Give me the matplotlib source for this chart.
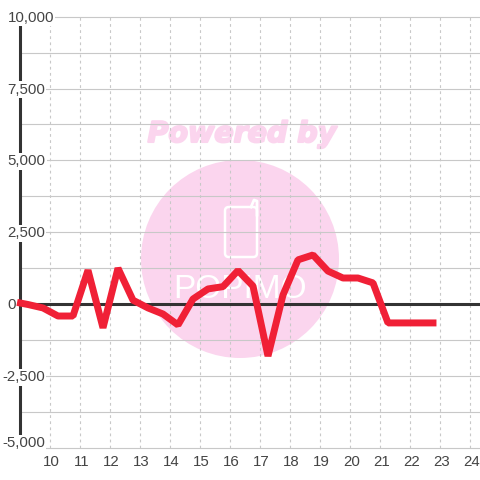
import matplotlib
matplotlib.use('Agg')
import matplotlib.pyplot as plt
import matplotlib.patheffects as pe
from matplotlib.patches import Circle, FancyBboxPatch

plt.rcParams['font.family'] = ['Liberation Sans', 'DejaVu Sans']

hours = [9, 9.25, 9.75, 10.25, 10.75, 11.25, 11.75, 12.25, 12.75, 13.25, 13.75, 14.25, 14.75,
         15.25, 15.75, 16.25, 16.75, 17.25, 17.75, 18.25, 18.75, 19.25, 19.75, 20.25, 20.75,
         21.25, 21.75, 22.25, 22.75]
values = [50, 0, -120, -400, -400, 1190, -810, 1260, 150, -120, -330, -710, 190,
          540, 620, 1180, 640, -1790, 330, 1550, 1720, 1160, 920, 920, 750,
          -640, -640, -640, -640]

x_ticks = list(range(10, 25))
y_grid = [-5000, -3750, -2500, -1250, 0, 1250, 2500, 3750, 5000, 6250, 7500, 8750, 10000]
y_labels = {10000: '10,000', 7500: '7,500', 5000: '5,000', 2500: '2,500', 0: '0',
            -2500: '-2,500', -5000: '-5,000'}

TEXT = '#444444'
GRID = '#c8c8c8'
PINK = '#fbd5ee'

fig = plt.figure(figsize=(4.8, 4.8), dpi=100)
ax = fig.add_axes([0, 0, 1, 1])
ax.set_xlim(8.317, 24.317)
ax.set_ylim(-6094, 10573)
ax.axis('off')


def px(x, y):
    return x / 480, 1 - y / 480


# watermark
ax.add_patch(Circle(px(240, 259), 99 / 480, transform=ax.transAxes, color=PINK, lw=0, zorder=0))
ax.text(*px(242, 134), 'Powered by', transform=ax.transAxes, color=PINK, fontsize=20.5,
        family='DejaVu Sans', fontweight='bold', fontstyle='italic', ha='center', va='center', zorder=0,
        path_effects=[pe.withStroke(linewidth=1.5, foreground=PINK)])
ax.add_patch(FancyBboxPatch(px(225, 257), 32 / 480, 50 / 480, transform=ax.transAxes,
                            boxstyle='round,pad=0,rounding_size=0.008', fc='none', ec='white',
                            lw=1.8, zorder=1))
ax.plot(*zip(px(251, 207), px(254, 200), px(257, 201), px(257, 215)), transform=ax.transAxes,
        color='white', lw=2, zorder=1)
ax.text(*px(240, 290), 'POPIMO', transform=ax.transAxes, color='white', fontsize=24,
        family=['Liberation Sans Narrow', 'Liberation Sans'], ha='center', va='center', zorder=1)

# grid
ax.hlines(y_grid, 9, ax.get_xlim()[1], color=GRID, lw=0.8, zorder=2)
ax.vlines(x_ticks, y_grid[0], y_grid[-1], color=GRID, lw=0.8, linestyles=(0, (2.5, 3)), zorder=2)

# axes lines
ax.vlines(9, y_grid[0], y_grid[-1], color='#333333', lw=2.2, zorder=3)
ax.hlines(0, 9, ax.get_xlim()[1], color='#333333', lw=2.2, zorder=3)

for val, lab in y_labels.items():
    dy = 5 if val == y_grid[0] else -1
    dx = -18 if val < 0 else -13
    ax.annotate(lab, (9, val), xytext=(dx, dy), textcoords='offset pixels', ha='left', va='center',
                fontsize=10.8, color=TEXT, zorder=4,
                bbox=dict(fc='white', ec='none', pad=0.8))

for x in x_ticks:
    ax.annotate(str(x), (x, y_grid[0]), xytext=(1, -14), textcoords='offset pixels', ha='center',
                va='center', fontsize=10.8, color=TEXT, zorder=4)

ax.plot(hours, values, color='#f02036', lw=5, solid_joinstyle='bevel', solid_capstyle='projecting', zorder=5)

fig.savefig('out.png', dpi=100)
